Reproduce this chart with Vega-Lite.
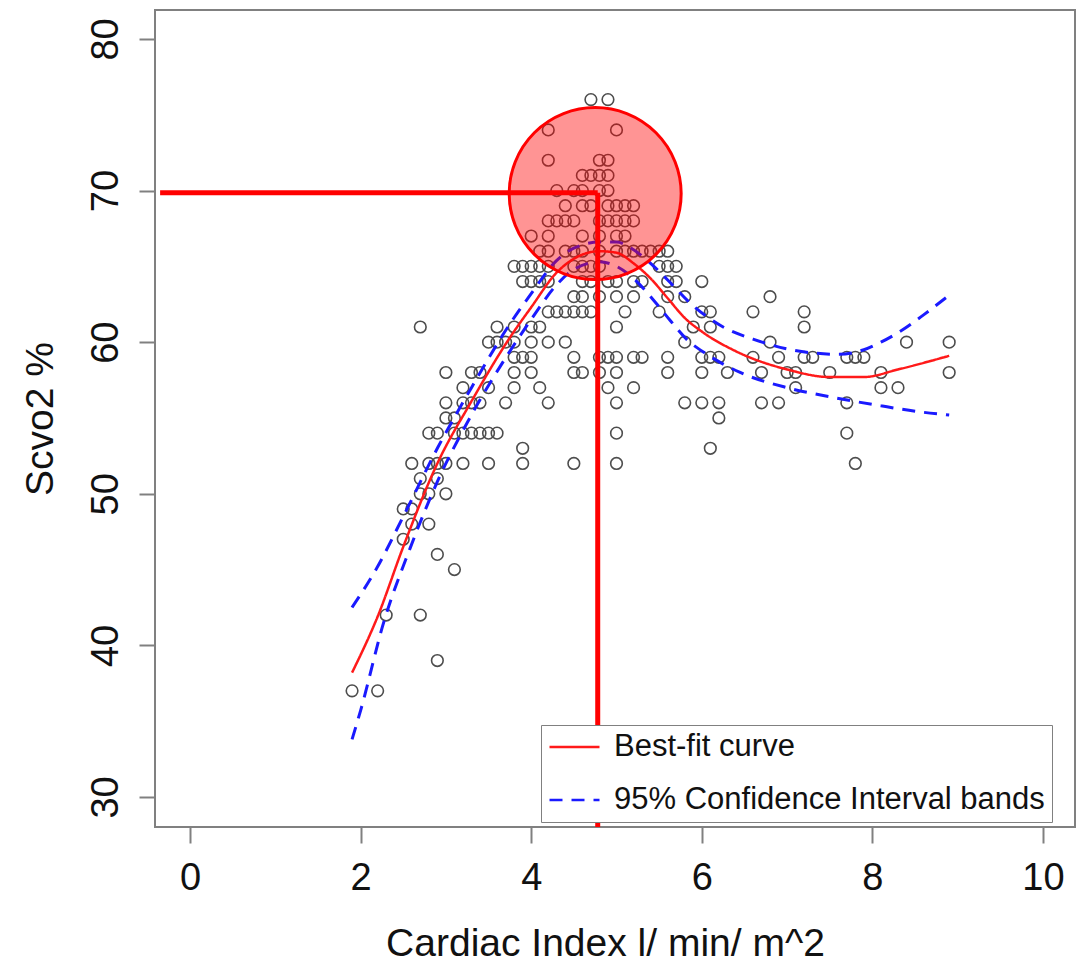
{
  "$schema": "https://vega.github.io/schema/vega-lite/v6.json",
  "width": 920,
  "height": 817,
  "autosize": {"type": "none"},
  "padding": {"left": 155, "top": 10, "right": 12, "bottom": 135},
  "background": "white",
  "config": {
    "font": "Liberation Sans",
    "view": {"stroke": "#808080", "strokeWidth": 2},
    "axis": {
      "grid": false,
      "domain": false,
      "tickColor": "#808080",
      "tickWidth": 2,
      "tickSize": 16,
      "labelFontSize": 38,
      "labelColor": "#111111",
      "titleFontSize": 39,
      "titleFontWeight": "normal",
      "titleColor": "#111111",
      "labelPadding": 16
    },
    "legend": {
      "orient": "none",
      "legendX": 386,
      "legendY": 715,
      "zindex": -1,
      "strokeColor": "#808080",
      "fillColor": "white",
      "padding": 7,
      "symbolType": "stroke",
      "symbolSize": 2500,
      "symbolStrokeWidth": 2.5,
      "clipHeight": 30,
      "labelFontSize": 31,
      "labelColor": "#111111",
      "labelOffset": 13,
      "labelLimit": 700,
      "rowPadding": 22
    }
  },
  "datasets": {
    "pts": [
      {"x":4.7,"y":76},{"x":4.9,"y":76},
      {"x":4.2,"y":74},{"x":5.0,"y":74},
      {"x":4.2,"y":72},{"x":4.8,"y":72},{"x":4.9,"y":72},
      {"x":4.6,"y":71},{"x":4.7,"y":71},{"x":4.8,"y":71},{"x":4.9,"y":71},
      {"x":4.3,"y":70},{"x":4.5,"y":70},{"x":4.6,"y":70},{"x":4.8,"y":70},{"x":4.9,"y":70},
      {"x":4.4,"y":69},{"x":4.6,"y":69},{"x":4.7,"y":69},{"x":4.9,"y":69},{"x":5.0,"y":69},{"x":5.1,"y":69},{"x":5.2,"y":69},
      {"x":4.2,"y":68},{"x":4.3,"y":68},{"x":4.4,"y":68},{"x":4.5,"y":68},{"x":4.8,"y":68},{"x":4.9,"y":68},{"x":5.0,"y":68},{"x":5.1,"y":68},{"x":5.2,"y":68},
      {"x":4.0,"y":67},{"x":4.2,"y":67},{"x":4.6,"y":67},{"x":4.8,"y":67},{"x":5.0,"y":67},{"x":5.1,"y":67},
      {"x":4.1,"y":66},{"x":4.2,"y":66},{"x":4.4,"y":66},{"x":4.5,"y":66},{"x":4.6,"y":66},{"x":4.8,"y":66},{"x":5.0,"y":66},{"x":5.1,"y":66},{"x":5.2,"y":66},{"x":5.3,"y":66},{"x":5.4,"y":66},{"x":5.5,"y":66},{"x":5.6,"y":66},
      {"x":3.8,"y":65},{"x":3.9,"y":65},{"x":4.0,"y":65},{"x":4.1,"y":65},{"x":4.2,"y":65},{"x":4.5,"y":65},{"x":4.6,"y":65},{"x":4.7,"y":65},{"x":4.8,"y":65},{"x":5.5,"y":65},{"x":5.6,"y":65},{"x":5.7,"y":65},
      {"x":3.9,"y":64},{"x":4.0,"y":64},{"x":4.1,"y":64},{"x":4.2,"y":64},{"x":4.6,"y":64},{"x":4.7,"y":64},{"x":4.9,"y":64},{"x":5.0,"y":64},{"x":5.2,"y":64},{"x":5.3,"y":64},{"x":5.6,"y":64},{"x":5.7,"y":64},{"x":6.0,"y":64},
      {"x":4.5,"y":63},{"x":4.6,"y":63},{"x":4.8,"y":63},{"x":5.0,"y":63},{"x":5.2,"y":63},{"x":5.6,"y":63},{"x":5.8,"y":63},{"x":6.8,"y":63},
      {"x":4.2,"y":62},{"x":4.3,"y":62},{"x":4.4,"y":62},{"x":4.5,"y":62},{"x":4.6,"y":62},{"x":4.7,"y":62},{"x":5.1,"y":62},{"x":5.5,"y":62},{"x":6.0,"y":62},{"x":6.1,"y":62},{"x":6.6,"y":62},{"x":7.2,"y":62},
      {"x":2.7,"y":61},{"x":3.6,"y":61},{"x":3.8,"y":61},{"x":4.0,"y":61},{"x":4.1,"y":61},{"x":5.0,"y":61},{"x":5.9,"y":61},{"x":6.1,"y":61},{"x":7.2,"y":61},
      {"x":3.5,"y":60},{"x":3.6,"y":60},{"x":3.7,"y":60},{"x":3.8,"y":60},{"x":4.0,"y":60},{"x":4.2,"y":60},{"x":4.4,"y":60},{"x":5.8,"y":60},{"x":6.8,"y":60},{"x":8.4,"y":60},{"x":8.9,"y":60},
      {"x":3.8,"y":59},{"x":3.9,"y":59},{"x":4.0,"y":59},{"x":4.5,"y":59},{"x":4.8,"y":59},{"x":4.9,"y":59},{"x":5.0,"y":59},{"x":5.2,"y":59},{"x":5.3,"y":59},{"x":5.6,"y":59},{"x":6.0,"y":59},{"x":6.1,"y":59},{"x":6.2,"y":59},{"x":6.6,"y":59},{"x":6.9,"y":59},{"x":7.2,"y":59},{"x":7.3,"y":59},{"x":7.7,"y":59},{"x":7.8,"y":59},{"x":7.9,"y":59},
      {"x":3.0,"y":58},{"x":3.3,"y":58},{"x":3.4,"y":58},{"x":3.8,"y":58},{"x":4.0,"y":58},{"x":4.5,"y":58},{"x":4.6,"y":58},{"x":4.8,"y":58},{"x":5.0,"y":58},{"x":5.6,"y":58},{"x":6.0,"y":58},{"x":6.3,"y":58},{"x":6.7,"y":58},{"x":7.0,"y":58},{"x":7.1,"y":58},{"x":7.5,"y":58},{"x":8.1,"y":58},{"x":8.9,"y":58},
      {"x":3.2,"y":57},{"x":3.5,"y":57},{"x":3.8,"y":57},{"x":4.1,"y":57},{"x":4.9,"y":57},{"x":5.2,"y":57},{"x":7.1,"y":57},{"x":8.1,"y":57},{"x":8.3,"y":57},
      {"x":3.0,"y":56},{"x":3.2,"y":56},{"x":3.3,"y":56},{"x":3.4,"y":56},{"x":3.7,"y":56},{"x":4.2,"y":56},{"x":5.0,"y":56},{"x":5.8,"y":56},{"x":6.0,"y":56},{"x":6.2,"y":56},{"x":6.7,"y":56},{"x":6.9,"y":56},{"x":7.7,"y":56},
      {"x":3.0,"y":55},{"x":3.1,"y":55},{"x":6.2,"y":55},
      {"x":2.8,"y":54},{"x":2.9,"y":54},{"x":3.1,"y":54},{"x":3.2,"y":54},{"x":3.3,"y":54},{"x":3.4,"y":54},{"x":3.5,"y":54},{"x":3.6,"y":54},{"x":5.0,"y":54},{"x":7.7,"y":54},
      {"x":3.9,"y":53},{"x":6.1,"y":53},
      {"x":2.6,"y":52},{"x":2.8,"y":52},{"x":2.9,"y":52},{"x":3.0,"y":52},{"x":3.2,"y":52},{"x":3.5,"y":52},{"x":3.9,"y":52},{"x":4.5,"y":52},{"x":5.0,"y":52},{"x":7.8,"y":52},
      {"x":2.7,"y":51},{"x":2.9,"y":51},
      {"x":2.7,"y":50},{"x":2.8,"y":50},{"x":3.0,"y":50},
      {"x":2.5,"y":49},{"x":2.6,"y":49},
      {"x":2.6,"y":48},{"x":2.8,"y":48},
      {"x":2.5,"y":47},
      {"x":2.9,"y":46},
      {"x":3.1,"y":45},
      {"x":2.3,"y":42},{"x":2.7,"y":42},
      {"x":2.9,"y":39},
      {"x":1.9,"y":37},{"x":2.2,"y":37}
    ],
    "fit": [
      {"x":1.9,"y":38.2,"series":"Best-fit curve","band":"fit"},
      {"x":2.2,"y":41.9,"series":"Best-fit curve","band":"fit"},
      {"x":2.5,"y":46.5,"series":"Best-fit curve","band":"fit"},
      {"x":2.9,"y":52.0,"series":"Best-fit curve","band":"fit"},
      {"x":3.3,"y":56.1,"series":"Best-fit curve","band":"fit"},
      {"x":3.75,"y":60.3,"series":"Best-fit curve","band":"fit"},
      {"x":4.0,"y":62.3,"series":"Best-fit curve","band":"fit"},
      {"x":4.3,"y":64.6,"series":"Best-fit curve","band":"fit"},
      {"x":4.5,"y":65.5,"series":"Best-fit curve","band":"fit"},
      {"x":4.8,"y":66.0,"series":"Best-fit curve","band":"fit"},
      {"x":5.0,"y":65.9,"series":"Best-fit curve","band":"fit"},
      {"x":5.2,"y":65.2,"series":"Best-fit curve","band":"fit"},
      {"x":5.4,"y":64.2,"series":"Best-fit curve","band":"fit"},
      {"x":5.6,"y":62.9,"series":"Best-fit curve","band":"fit"},
      {"x":5.8,"y":61.6,"series":"Best-fit curve","band":"fit"},
      {"x":6.0,"y":60.7,"series":"Best-fit curve","band":"fit"},
      {"x":6.4,"y":59.4,"series":"Best-fit curve","band":"fit"},
      {"x":7.0,"y":58.2,"series":"Best-fit curve","band":"fit"},
      {"x":7.5,"y":57.7,"series":"Best-fit curve","band":"fit"},
      {"x":7.9,"y":57.7,"series":"Best-fit curve","band":"fit"},
      {"x":8.3,"y":58.2,"series":"Best-fit curve","band":"fit"},
      {"x":8.9,"y":59.1,"series":"Best-fit curve","band":"fit"}
    ],
    "ci": [
      {"x":1.9,"y":42.5,"series":"95% Confidence Interval bands","band":"upper"},
      {"x":2.2,"y":45.2,"series":"95% Confidence Interval bands","band":"upper"},
      {"x":2.5,"y":48.5,"series":"95% Confidence Interval bands","band":"upper"},
      {"x":2.9,"y":53.0,"series":"95% Confidence Interval bands","band":"upper"},
      {"x":3.3,"y":57.0,"series":"95% Confidence Interval bands","band":"upper"},
      {"x":3.75,"y":61.2,"series":"95% Confidence Interval bands","band":"upper"},
      {"x":4.0,"y":63.2,"series":"95% Confidence Interval bands","band":"upper"},
      {"x":4.3,"y":65.4,"series":"95% Confidence Interval bands","band":"upper"},
      {"x":4.5,"y":66.2,"series":"95% Confidence Interval bands","band":"upper"},
      {"x":4.8,"y":66.6,"series":"95% Confidence Interval bands","band":"upper"},
      {"x":5.0,"y":66.6,"series":"95% Confidence Interval bands","band":"upper"},
      {"x":5.2,"y":66.1,"series":"95% Confidence Interval bands","band":"upper"},
      {"x":5.4,"y":65.2,"series":"95% Confidence Interval bands","band":"upper"},
      {"x":5.6,"y":64.1,"series":"95% Confidence Interval bands","band":"upper"},
      {"x":5.86,"y":62.6,"series":"95% Confidence Interval bands","band":"upper"},
      {"x":6.25,"y":61.0,"series":"95% Confidence Interval bands","band":"upper"},
      {"x":6.6,"y":60.2,"series":"95% Confidence Interval bands","band":"upper"},
      {"x":7.05,"y":59.5,"series":"95% Confidence Interval bands","band":"upper"},
      {"x":7.6,"y":59.2,"series":"95% Confidence Interval bands","band":"upper"},
      {"x":7.9,"y":59.5,"series":"95% Confidence Interval bands","band":"upper"},
      {"x":8.1,"y":60.0,"series":"95% Confidence Interval bands","band":"upper"},
      {"x":8.35,"y":60.8,"series":"95% Confidence Interval bands","band":"upper"},
      {"x":8.6,"y":61.8,"series":"95% Confidence Interval bands","band":"upper"},
      {"x":8.9,"y":63.1,"series":"95% Confidence Interval bands","band":"upper"},
      {"x":1.9,"y":33.8,"series":"95% Confidence Interval bands","band":"lower"},
      {"x":2.0,"y":35.7,"series":"95% Confidence Interval bands","band":"lower"},
      {"x":2.27,"y":41.5,"series":"95% Confidence Interval bands","band":"lower"},
      {"x":2.58,"y":46.4,"series":"95% Confidence Interval bands","band":"lower"},
      {"x":2.9,"y":50.8,"series":"95% Confidence Interval bands","band":"lower"},
      {"x":3.3,"y":55.2,"series":"95% Confidence Interval bands","band":"lower"},
      {"x":3.75,"y":59.4,"series":"95% Confidence Interval bands","band":"lower"},
      {"x":4.0,"y":61.5,"series":"95% Confidence Interval bands","band":"lower"},
      {"x":4.3,"y":63.8,"series":"95% Confidence Interval bands","band":"lower"},
      {"x":4.5,"y":64.8,"series":"95% Confidence Interval bands","band":"lower"},
      {"x":4.8,"y":65.3,"series":"95% Confidence Interval bands","band":"lower"},
      {"x":5.0,"y":65.0,"series":"95% Confidence Interval bands","band":"lower"},
      {"x":5.2,"y":64.2,"series":"95% Confidence Interval bands","band":"lower"},
      {"x":5.43,"y":62.8,"series":"95% Confidence Interval bands","band":"lower"},
      {"x":5.62,"y":61.5,"series":"95% Confidence Interval bands","band":"lower"},
      {"x":5.82,"y":60.2,"series":"95% Confidence Interval bands","band":"lower"},
      {"x":6.06,"y":59.2,"series":"95% Confidence Interval bands","band":"lower"},
      {"x":6.45,"y":58.0,"series":"95% Confidence Interval bands","band":"lower"},
      {"x":7.0,"y":57.0,"series":"95% Confidence Interval bands","band":"lower"},
      {"x":7.5,"y":56.4,"series":"95% Confidence Interval bands","band":"lower"},
      {"x":8.1,"y":55.8,"series":"95% Confidence Interval bands","band":"lower"},
      {"x":8.56,"y":55.4,"series":"95% Confidence Interval bands","band":"lower"},
      {"x":8.9,"y":55.2,"series":"95% Confidence Interval bands","band":"lower"}
    ],
    "circle": [{"x":4.75,"y":69.8}],
    "hline": [{"x":-0.35,"x2":4.78,"y":69.85}],
    "vline": [{"x":4.78,"y":69.85,"y2":28.0}]
  },
  "encoding": {
    "x": {
      "field": "x",
      "type": "quantitative",
      "scale": {"domain": [-0.41, 10.375], "nice": false, "zero": false},
      "axis": {"values": [0, 2, 4, 6, 8, 10], "title": "Cardiac Index l/ min/ m^2", "titlePadding": 27, "titleX": 450}
    },
    "y": {
      "field": "y",
      "type": "quantitative",
      "scale": {"domain": [28.02, 81.91], "nice": false, "zero": false},
      "axis": {"values": [30, 40, 50, 60, 70, 80], "title": "Scvo2 %", "labelAngle": -90, "labelAlign": "center", "labelBaseline": "alphabetic", "labelPadding": 22, "titlePadding": 27}
    }
  },
  "layer": [
    {
      "data": {"name": "pts"},
      "mark": {"type": "point", "shape": "circle", "filled": false, "size": 135, "strokeWidth": 1.6, "color": "#4d4d4d", "opacity": 1}
    },
    {
      "data": {"name": "ci"},
      "mark": {"type": "line", "strokeWidth": 3, "interpolate": "monotone"},
      "encoding": {
        "detail": {"field": "band", "type": "nominal"},
        "color": {"field": "series", "type": "nominal", "scale": {"domain": ["Best-fit curve", "95% Confidence Interval bands"], "range": ["#ff1a1a", "#1a1aff"]}, "legend": {"title": null}},
        "strokeDash": {"field": "series", "type": "nominal", "scale": {"domain": ["Best-fit curve", "95% Confidence Interval bands"], "range": [[1, 0], [13, 9]]}, "legend": {"title": null}}
      }
    },
    {
      "data": {"name": "fit"},
      "mark": {"type": "line", "strokeWidth": 2.5, "interpolate": "monotone"},
      "encoding": {
        "color": {"field": "series", "type": "nominal", "legend": {"title": null}},
        "strokeDash": {"field": "series", "type": "nominal", "legend": {"title": null}}
      }
    },
    {
      "data": {"name": "circle"},
      "mark": {"type": "point", "shape": "circle", "filled": true, "size": 29584, "fill": "#ff0000", "fillOpacity": 0.42, "stroke": "#ff0000", "strokeWidth": 3, "strokeOpacity": 1, "opacity": 1}
    },
    {
      "data": {"name": "hline"},
      "mark": {"type": "rule", "color": "#ff0000", "strokeWidth": 5},
      "encoding": {"x2": {"field": "x2"}}
    },
    {
      "data": {"name": "vline"},
      "mark": {"type": "rule", "color": "#ff0000", "strokeWidth": 5, "clip": true},
      "encoding": {"y2": {"field": "y2"}}
    }
  ]
}
